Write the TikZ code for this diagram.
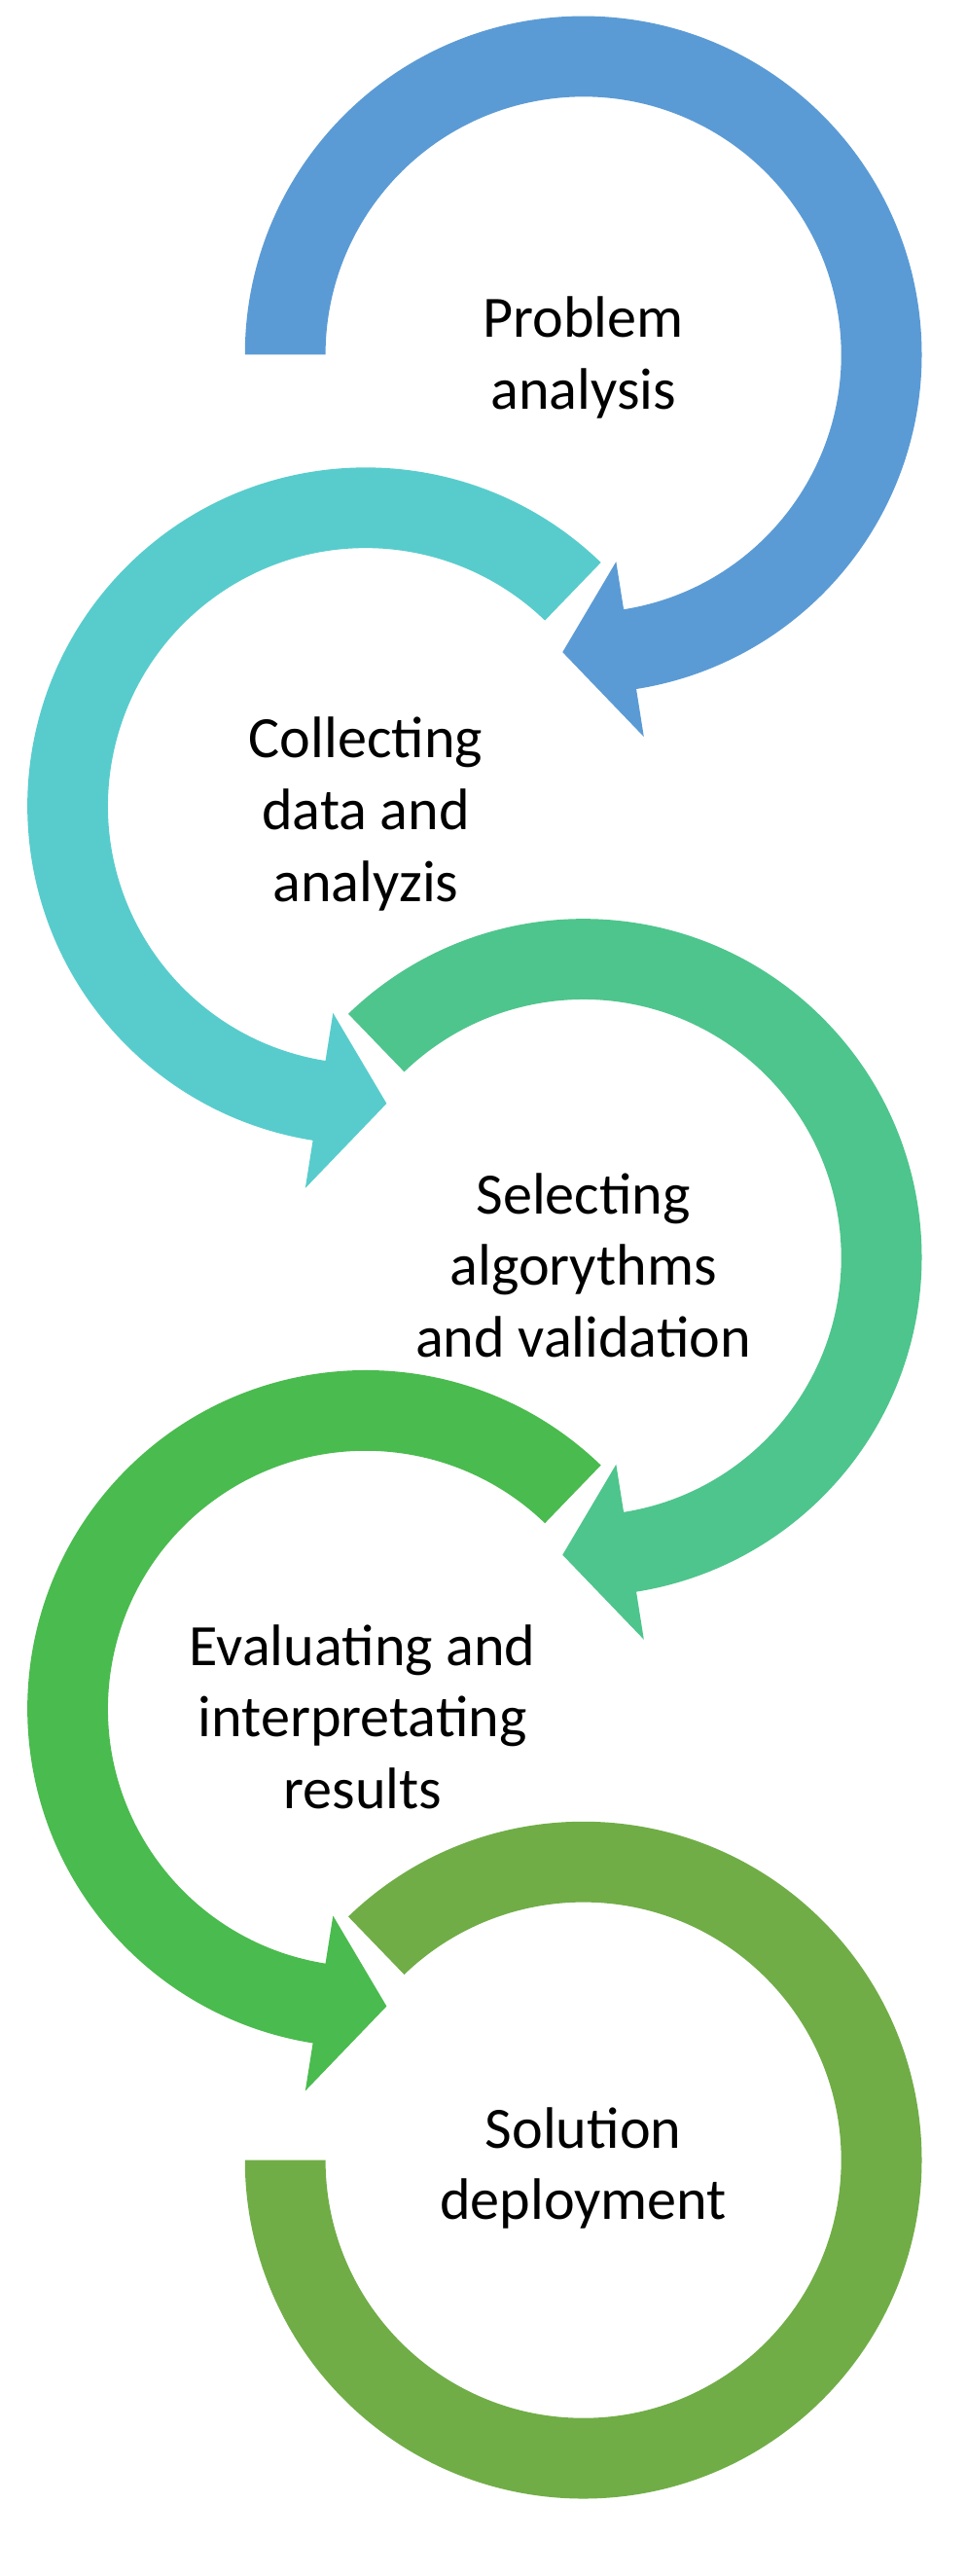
\documentclass[tikz,border=0pt]{standalone}
\usepackage{fontspec}
\setmainfont{Carlito}
\definecolor{cBlue}{HTML}{5B9BD5}
\definecolor{cTeal}{HTML}{58CCCC}
\definecolor{cMint}{HTML}{4EC58C}
\definecolor{cGreen}{HTML}{4ABB4E}
\definecolor{cOlive}{HTML}{70AD47}
\tikzset{
  stage/.style={align=center, font=\fontsize{31}{38}\selectfont},
}
\begin{document}
\begin{tikzpicture}[x=0.03cm,y=0.03cm]
  \useasboundingbox (0,0) rectangle (600,-1598);
  % clockwise rings (right column)
  \fill[cBlue] ([shift={(362,-220)}]180:6.3cm) arc[start angle=180,end angle=-81,radius=6.3cm]
    -- ([shift={(362,-220)}]-81:7.2cm) -- ([shift={(362,-220)}]-94:5.55cm) -- ([shift={(362,-220)}]-81:3.9cm)
    -- ([shift={(362,-220)}]-81:4.8cm) arc[start angle=-81,end angle=180,radius=4.8cm] -- cycle;
  \fill[cMint] ([shift={(362,-780)}]134:6.3cm) arc[start angle=134,end angle=-81,radius=6.3cm]
    -- ([shift={(362,-780)}]-81:7.2cm) -- ([shift={(362,-780)}]-94:5.55cm) -- ([shift={(362,-780)}]-81:3.9cm)
    -- ([shift={(362,-780)}]-81:4.8cm) arc[start angle=-81,end angle=134,radius=4.8cm] -- cycle;
  \fill[cOlive] ([shift={(362,-1340)}]134:6.3cm) arc[start angle=134,end angle=-180,radius=6.3cm]
    -- ([shift={(362,-1340)}]180:4.8cm) arc[start angle=-180,end angle=134,radius=4.8cm] -- cycle;
  % counter-clockwise rings (left column)
  \fill[cTeal] ([shift={(227,-500)}]46:6.3cm) arc[start angle=46,end angle=261,radius=6.3cm]
    -- ([shift={(227,-500)}]261:7.2cm) -- ([shift={(227,-500)}]274:5.55cm) -- ([shift={(227,-500)}]261:3.9cm)
    -- ([shift={(227,-500)}]261:4.8cm) arc[start angle=261,end angle=46,radius=4.8cm] -- cycle;
  \fill[cGreen] ([shift={(227,-1060)}]46:6.3cm) arc[start angle=46,end angle=261,radius=6.3cm]
    -- ([shift={(227,-1060)}]261:7.2cm) -- ([shift={(227,-1060)}]274:5.55cm) -- ([shift={(227,-1060)}]261:3.9cm)
    -- ([shift={(227,-1060)}]261:4.8cm) arc[start angle=261,end angle=46,radius=4.8cm] -- cycle;
  % labels
  \node[stage] (analysis) at (362,-222) {Problem\\analysis};
  \node[stage] (data) at (227,-505) {Collecting\\data and\\analyzis};
  \node[stage] (algo) at (362,-785) {Selecting\\algorythms\\and validation};
  \node[stage] (eval) at (225,-1065) {Evaluating and\\interpretating\\results};
  \node[stage] (deploy) at (362,-1345) {Solution\\deployment};
\end{tikzpicture}
\end{document}
